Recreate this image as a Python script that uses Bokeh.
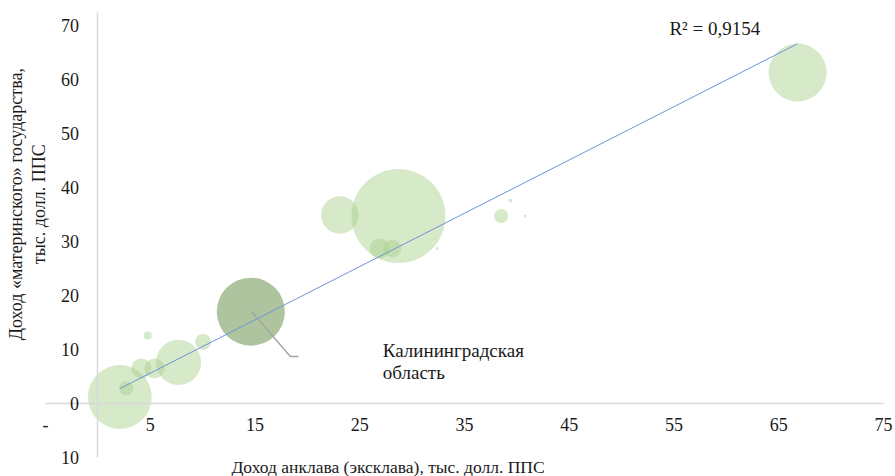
import numpy as np
from bokeh.plotting import figure
from bokeh.models import ColumnDataSource, LinearAxis, FixedTicker, Label, Range1d
from bokeh.embed import file_html
from bokeh.resources import INLINE

# ---- data ----
enclave_income = [2.1, 2.7, 4.15, 5.4, 7.7, 4.75, 10.05, 14.6, 23.1, 28.7,
                  26.9, 28.1, 32.4, 38.5, 39.4, 40.8, 37.1, 66.8]
parent_income = [1.2, 2.8, 6.5, 6.5, 7.6, 12.6, 11.4, 17.0, 34.9, 34.7,
                 28.7, 28.7, 28.7, 34.7, 37.6, 34.7, 36.4, 61.3]
bubble_value = [102, 4.9, 10, 10, 51, 1.6, 6.4, 116, 35, 221,
                10, 8.1, 0.2, 4.9, 0.4, 0.2, 0.03, 84]
highlight_index = 7  # Калининградская область
trend_slope = 0.987
trend_intercept = 0.68
r2_text = "R² = 0,9154"
x_ticks = [-5, 5, 15, 25, 35, 45, 55, 65, 75]
y_ticks = [-10, 0, 10, 20, 30, 40, 50, 60, 70]
x_bounds = (-5, 75)
y_bounds = (-10, 72.4)
x_title = "Доход анклава (эксклава), тыс. долл. ППС"
y_title_lines = ["Доход «материнского» государства,", "тыс. долл. ППС"]
highlight_label = ["Калининградская", "область"]

FONT = "'Liberation Serif'"
TXT = "#1a1a1a"
AXIS = "#d9d9d9"

diam = [2 * np.sqrt(v * 10) for v in bubble_value]
others = [i for i in range(len(enclave_income)) if i != highlight_index]

p = figure(width=895, height=476, x_range=Range1d(-9.296, 76.146), y_range=Range1d(-13.52, 74.62),
           output_backend="svg", toolbar_location=None, x_axis_type=None, y_axis_type=None,
           min_border_left=0, min_border_right=0, min_border_top=0, min_border_bottom=0)
p.outline_line_color = None
p.background_fill_color = "white"
p.border_fill_color = "white"

xaxis = LinearAxis(fixed_location=0, ticker=FixedTicker(ticks=x_ticks), bounds=x_bounds,
                   major_label_overrides={-5: "-"})
yaxis = LinearAxis(fixed_location=0, ticker=FixedTicker(ticks=y_ticks), bounds=y_bounds,
                   major_label_overrides={-10: "10"})
for ax in (xaxis, yaxis):
    ax.axis_line_color = AXIS
    ax.axis_line_width = 1.5
    ax.major_tick_line_color = None
    ax.minor_tick_line_color = None
    ax.major_label_text_font = FONT
    ax.major_label_text_font_size = "18px"
    ax.major_label_text_color = TXT
xaxis.major_label_standoff = 9
yaxis.major_label_standoff = 13
p.add_layout(xaxis, "below")
p.add_layout(yaxis, "left")

src = ColumnDataSource(dict(x=[enclave_income[i] for i in others],
                            y=[parent_income[i] for i in others],
                            s=[diam[i] for i in others]))
p.scatter("x", "y", size="s", source=src, fill_color="#a9d18e", fill_alpha=0.48, line_color=None)
hsrc = ColumnDataSource(dict(x=[enclave_income[highlight_index]], y=[parent_income[highlight_index]],
                             s=[diam[highlight_index]]))
p.scatter("x", "y", size="s", source=hsrc, fill_color="#aec49e", fill_alpha=1.0, line_color=None)

# trend line
xmin, xmax = min(enclave_income), max(enclave_income)
p.line([xmin, xmax], [trend_intercept + trend_slope * xmin, trend_intercept + trend_slope * xmax],
       line_color="#6f93d8", line_width=1)

# leader line for Kaliningrad
kx, ky = enclave_income[highlight_index], parent_income[highlight_index]
p.line([kx + 0.1, kx + 3.78, kx + 4.54], [ky - 0.05, ky - 8.3, ky - 8.3],
       line_color="#a6a6a6", line_width=1.5)
p.add_layout(Label(x=kx + 12.6, y=ky - 7.2, text=highlight_label[0], text_font=FONT, text_font_size="19px",
                   text_color=TXT, text_baseline="middle", text_align="left"))
p.add_layout(Label(x=kx + 12.6, y=ky - 11.3, text=highlight_label[1], text_font=FONT, text_font_size="19px",
                   text_color=TXT, text_baseline="middle", text_align="left"))

p.add_layout(Label(x=58.9, y=69.4, text=r2_text, text_font=FONT, text_font_size="19px",
                   text_color=TXT, text_baseline="middle", text_align="center"))

p.add_layout(Label(x=27.7, y=-11.7, text=x_title, text_font=FONT, text_font_size="17.5px",
                   text_color=TXT, text_baseline="middle", text_align="center"))
p.add_layout(Label(x=-7.85, y=36.9, text=y_title_lines[0], angle=np.pi / 2, text_font=FONT,
                   text_font_size="18px", text_color=TXT, text_baseline="middle", text_align="center"))
p.add_layout(Label(x=-5.6, y=36.9, text=y_title_lines[1], angle=np.pi / 2, text_font=FONT,
                   text_font_size="18px", text_color=TXT, text_baseline="middle", text_align="center"))

open("out.html", "w").write(file_html(p, INLINE))
